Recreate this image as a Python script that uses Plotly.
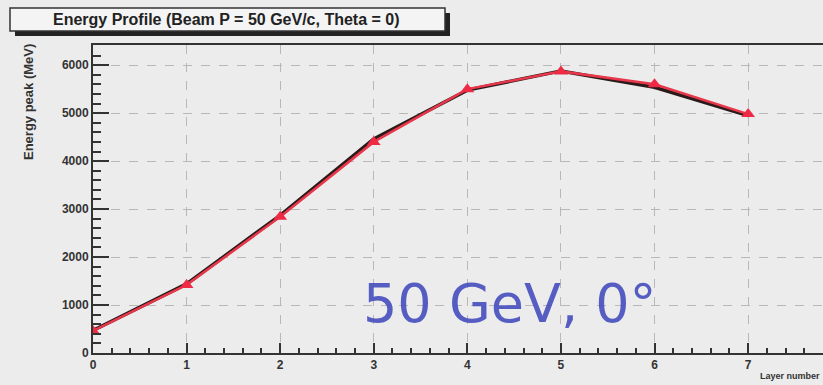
import plotly.graph_objects as go

layers = [0, 1, 2, 3, 4, 5, 6, 7]
energy_red = [460, 1420, 2840, 4400, 5500, 5870, 5600, 4980]
energy_black = [470, 1440, 2870, 4460, 5480, 5880, 5540, 4950]
y_ticks = [0, 1000, 2000, 3000, 4000, 5000, 6000]
x_ticks = [0, 1, 2, 3, 4, 5, 6, 7]

W, H = 823, 385
L, R, T, B = 93, 0, 45, 32

fig = go.Figure()
fig.add_trace(go.Scatter(x=layers, y=energy_black, mode="lines",
                         line=dict(color="#2a1a1a", width=3.5), showlegend=False))
fig.add_trace(go.Scatter(x=layers, y=energy_red, mode="lines+markers",
                         line=dict(color="#e8364a", width=2.5),
                         marker=dict(symbol="triangle-up", size=12, color="#ee2a44"),
                         showlegend=False))

axis_font = dict(family="Liberation Sans, Arial", size=12, color="#333333", weight="bold")
fig.update_xaxes(range=[0, 7.8], tickvals=x_ticks, ticks="inside", ticklen=10, tickwidth=1.5,
                 tickcolor="#333", showline=True, linecolor="#333", linewidth=2, mirror=True,
                 showgrid=True, gridcolor="#b8b8b8", griddash="dash", gridwidth=1,
                 zeroline=False, tickfont=axis_font,
                 minor=dict(dtick=0.2, ticks="inside", ticklen=5, tickcolor="#333", showgrid=False))
fig.update_yaxes(range=[0, 6420], tickvals=y_ticks, ticks="inside", ticklen=16, tickwidth=1.5,
                 tickcolor="#333", showline=True, linecolor="#333", linewidth=2,
                 showgrid=True, gridcolor="#b8b8b8", griddash="dash", gridwidth=1,
                 zeroline=False, tickfont=axis_font,
                 minor=dict(dtick=200, ticks="inside", ticklen=8, tickcolor="#333", showgrid=False))

def px(x):
    return (x - L) / (W - L - R)

def py(y):
    return (H - B - y) / (H - T - B)

# title box shadow and box
fig.add_shape(type="rect", xref="paper", yref="paper",
              x0=px(15), x1=px(450), y0=py(36), y1=py(13),
              fillcolor="#222", line=dict(width=0))
fig.add_shape(type="rect", xref="paper", yref="paper",
              x0=px(10), x1=px(445), y0=py(31), y1=py(8),
              fillcolor="#f4f4f4", line=dict(color="#333", width=1.5))
fig.add_annotation(xref="paper", yref="paper", x=px(226), y=py(19.5),
                   xanchor="center", yanchor="middle",
                   text="<b>Energy Profile (Beam P = 50 GeV/c, Theta = 0)</b>",
                   showarrow=False, font=dict(family="Liberation Sans, Arial", size=16, color="#222"))

fig.add_annotation(xref="paper", yref="paper", x=px(29), y=py(42),
                   xanchor="center", yanchor="top",
                   text="<b>Energy peak (MeV)</b>", textangle=-90, showarrow=False,
                   font=dict(family="Liberation Sans, Arial", size=13, color="#333"))
fig.add_annotation(xref="paper", yref="paper", x=px(822), y=py(376), xanchor="right",
                   yanchor="middle",
                   text="<b>Layer number</b>", showarrow=False,
                   font=dict(family="Liberation Sans, Arial", size=9, color="#333"))

fig.add_annotation(xref="paper", yref="paper", x=px(510), y=py(303),
                   xanchor="center", yanchor="middle",
                   text="50 GeV, 0°", showarrow=False,
                   font=dict(family="DejaVu Sans", size=54, color="rgba(70,78,190,0.9)"))

fig.update_layout(width=W, height=H, margin=dict(l=L, r=R, t=T, b=B),
                  paper_bgcolor="#ececec", plot_bgcolor="#ececec")

fig.write_html("out.html")
